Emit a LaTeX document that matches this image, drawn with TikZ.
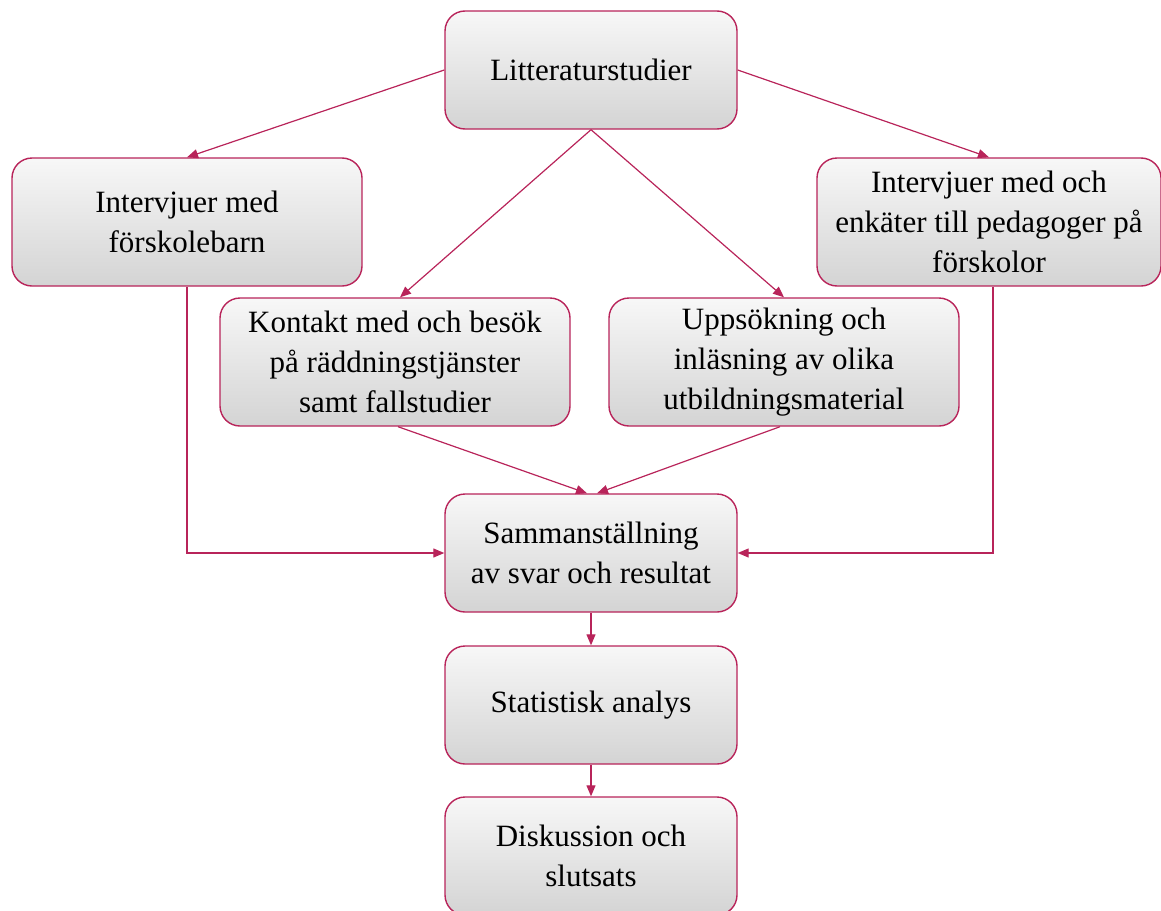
\documentclass[tikz,border=0pt]{standalone}
\usepackage{fontspec}
\setmainfont{Liberation Serif}
\usetikzlibrary{arrows.meta}
\definecolor{ramcol}{HTML}{B8245A}
\begin{document}
\begin{tikzpicture}[x=1pt,y=-1pt,>={Triangle[length=11pt,width=9pt]},
every node/.style={font=\fontsize{31}{40}\selectfont},
stegbox/.style={draw=ramcol,line width=1.4pt,rounded corners=20pt,
  top color=black!3,bottom color=black!17,align=center,
  minimum width=292pt,minimum height=118pt,inner sep=0pt},
widebox/.style={stegbox,minimum width=350pt,minimum height=128pt},
pil/.style={draw=ramcol,line width=1.2pt,->}]

\useasboundingbox (0,0) rectangle (1161,910);

\node[stegbox](litt) at (591,70) {Litteraturstudier};
\node[widebox](barn) at (187,222) {Intervjuer med\\förskolebarn};
\node[widebox,minimum width=344pt](ped) at (989,222) {Intervjuer med och\\enkäter till pedagoger på\\förskolor};
\node[widebox](kontakt) at (395,362) {Kontakt med och besök\\på räddningstjänster\\samt fallstudier};
\node[widebox](upps) at (784,362) {Uppsökning och\\inläsning av olika\\utbildningsmaterial};
\node[stegbox](samman) at (591,553) {Sammanställning\\av svar och resultat};
\node[stegbox](stat) at (591,705) {Statistisk analys};
\node[stegbox](disk) at (591,856) {Diskussion och\\slutsats};

\draw[pil] (litt.west) -- (barn.north);
\draw[pil] (litt.east) -- (ped.north);
\draw[pil] (litt.south) -- ([xshift=5pt]kontakt.north);
\draw[pil] (litt.south) -- (upps.north);

\draw[pil] ([xshift=3pt]kontakt.south) -- ([xshift=-4pt]samman.north);
\draw[pil] ([xshift=-4pt]upps.south) -- ([xshift=6pt]samman.north);

\draw[pil] (barn.south) |- (samman.west);
\draw[pil] ([xshift=4pt]ped.south) |- (samman.east);

\draw[pil] (samman) -- (stat);
\draw[pil] (stat) -- (disk);

\end{tikzpicture}
\end{document}
